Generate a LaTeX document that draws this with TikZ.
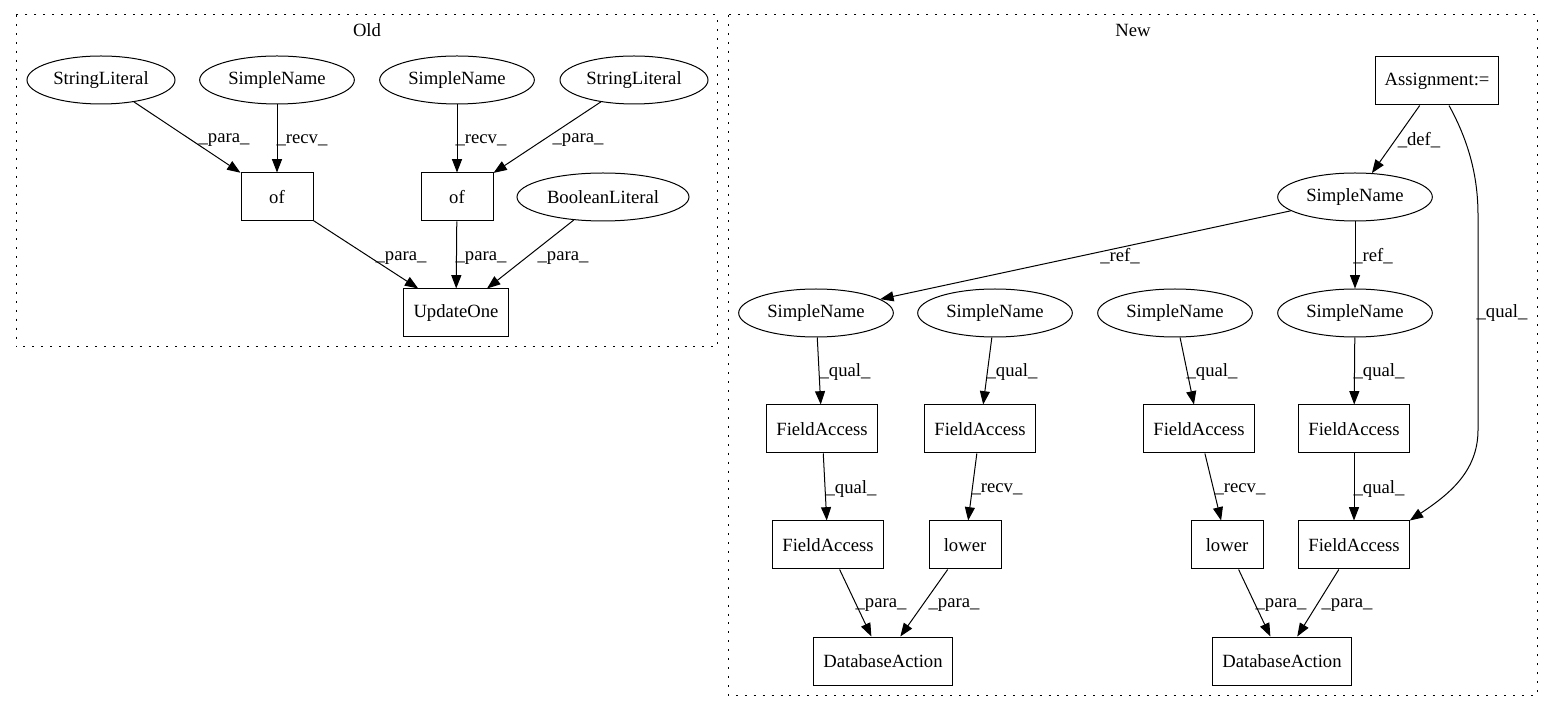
\documentclass[tikz,border=0pt]{standalone}
\usepackage{fontspec}
\setmainfont{Liberation Serif}
\usetikzlibrary{arrows.meta,calc,shapes.geometric}
\begin{document}
\begin{tikzpicture}[x=0.75pt,y=-0.75pt,
  font=\fontsize{14pt}{16pt}\selectfont,
  every node/.style={inner sep=0pt},
  ell/.style={draw,ellipse,line width=0.75pt,minimum height=36pt},
  box/.style={draw,rectangle,line width=0.75pt,minimum height=36pt},
  edge/.style={line width=0.75pt,-{Triangle[length=10pt,width=7.5pt]}},
  lab/.style={},
  cluster/.style={draw,line width=0.75pt,dash pattern=on 1.5pt off 5.2pt}
]
\useasboundingbox (0,0) rectangle (1553,712);
% clusters
\draw[cluster] (16,15) rectangle (717,347);
\node[lab] (oldlab) at (367,30) {Old};
\draw[cluster] (728,15) rectangle (1537,695);
\node[lab] (newlab) at (1133,30) {New};

% Old nodes
\node[ell,minimum width=111pt] (sl1) at (101,80) {StringLiteral};
\node[ell,minimum width=116pt] (sn1) at (277,80) {SimpleName};
\node[ell,minimum width=116pt] (sn2) at (457,80) {SimpleName};
\node[ell,minimum width=111pt] (sl2) at (634,80) {StringLiteral};
\node[box,minimum width=54pt] (of1) at (277,197) {of};
\node[box,minimum width=54pt] (of2) at (457,197) {of};
\node[ell,minimum width=129pt] (bl) at (603,197) {BooleanLiteral};
\node[box,minimum width=79pt] (uo) at (456,313) {UpdateOne};

\draw[edge] (sl1) -- (of1);
\draw[edge] (sn1) -- (of1);
\draw[edge] (sn2) -- (of2);
\draw[edge] (sl2) -- (of2);
\draw[edge] (of1) -- (uo);
\draw[edge] (of2) -- (uo);
\draw[edge] (bl) -- (uo);
\node[lab] (l1) at (224,140) {\_para\_};
\node[lab] (l2) at (302,140) {\_recv\_};
\node[lab] (l3) at (481,140) {\_recv\_};
\node[lab] (l4) at (578,140) {\_para\_};
\node[lab] (l5) at (401,258) {\_para\_};
\node[lab] (l6) at (481,258) {\_para\_};
\node[lab] (l7) at (563,258) {\_para\_};

% New nodes
\node[box,minimum width=92pt] (asg) at (1437,81) {Assignment:=};
\node[ell,minimum width=116pt] (snt) at (1355,197) {SimpleName};
\node[ell,minimum width=116pt] (sna) at (816,313) {SimpleName};
\node[ell,minimum width=116pt] (snb) at (995,313) {SimpleName};
\node[ell,minimum width=116pt] (snc) at (1175,313) {SimpleName};
\node[ell,minimum width=116pt] (snd) at (1355,313) {SimpleName};
\node[box,minimum width=83pt] (fa1) at (822,429) {FieldAccess};
\node[box,minimum width=83pt] (fa2) at (980,429) {FieldAccess};
\node[box,minimum width=83pt] (fa3) at (1199,429) {FieldAccess};
\node[box,minimum width=83pt] (fa4) at (1354,429) {FieldAccess};
\node[box,minimum width=83pt] (fa5) at (828,545) {FieldAccess};
\node[box,minimum width=54pt] (lw1) at (965,545) {lower};
\node[box,minimum width=54pt] (lw2) at (1227,545) {lower};
\node[box,minimum width=83pt] (fa6) at (1354,545) {FieldAccess};
\node[box,minimum width=104pt] (da1) at (883,661) {DatabaseAction};
\node[box,minimum width=104pt] (da2) at (1282,661) {DatabaseAction};

\draw[edge] (asg) -- (snt);
\draw[edge] (snt) -- (sna);
\draw[edge] (snt) -- (snd);
\draw[edge] ($(asg.south)+(12,0)$) .. controls (1468,140) and (1478,175) .. (1478,215)
   -- (1478,430) .. controls (1478,472) and (1448,495) .. (fa6.north east);
\draw[edge] (sna) -- (fa1);
\draw[edge] (snb) -- (fa2);
\draw[edge] (snc) -- (fa3);
\draw[edge] (snd) -- (fa4);
\draw[edge] (fa1) -- (fa5);
\draw[edge] (fa2) -- (lw1);
\draw[edge] (fa3) -- (lw2);
\draw[edge] (fa4) -- (fa6);
\draw[edge] (fa5) -- (da1);
\draw[edge] (lw1) -- (da1);
\draw[edge] (lw2) -- (da2);
\draw[edge] (fa6) -- (da2);

\node[lab] (m1) at (1419,140) {\_def\_};
\node[lab] (m2) at (1120,256) {\_ref\_};
\node[lab] (m3) at (1373,256) {\_ref\_};
\node[lab] (m4) at (1502,313) {\_qual\_};
\node[lab] (m5) at (845,372) {\_qual\_};
\node[lab] (m6) at (1012,372) {\_qual\_};
\node[lab] (m7) at (1212,372) {\_qual\_};
\node[lab] (m8) at (1379,372) {\_qual\_};
\node[lab] (m9) at (851,489) {\_qual\_};
\node[lab] (m10) at (997,489) {\_recv\_};
\node[lab] (m11) at (1240,489) {\_recv\_};
\node[lab] (m12) at (1379,489) {\_qual\_};
\node[lab] (m13) at (881,605) {\_para\_};
\node[lab] (m14) at (954,605) {\_para\_};
\node[lab] (m15) at (1281,605) {\_para\_};
\node[lab] (m16) at (1347,605) {\_para\_};
\end{tikzpicture}
\end{document}
